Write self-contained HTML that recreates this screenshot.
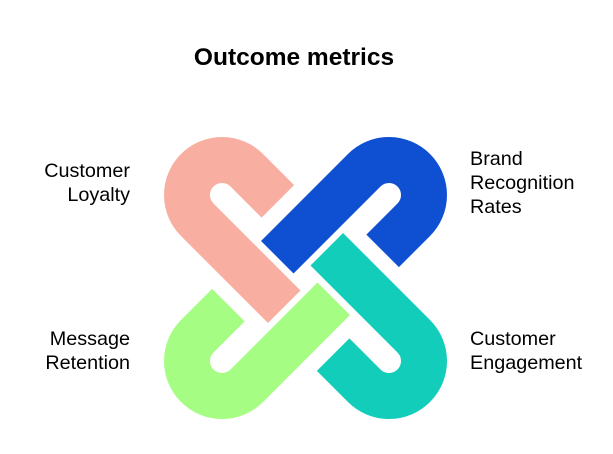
<!DOCTYPE html>
<html><head><style>
body{margin:0;width:613px;height:454px;background:#fff;overflow:hidden}
svg{display:block}
text{font-family:"Liberation Sans",sans-serif;fill:#000}
</style></head><body>
<svg width="613" height="454" viewBox="0 0 613 454">
<text x="294" y="65" font-size="24.5" font-weight="bold" text-anchor="middle">Outcome metrics</text>
<g font-size="19.8">
<text x="130" y="177" text-anchor="end">Customer</text>
<text x="130" y="201" text-anchor="end">Loyalty</text>
<text x="470" y="165">Brand</text>
<text x="470" y="189">Recognition</text>
<text x="470" y="213">Rates</text>
<text x="130" y="345" text-anchor="end">Message</text>
<text x="130" y="369" text-anchor="end">Retention</text>
<text x="470" y="345">Customer</text>
<text x="470" y="369">Engagement</text>
</g>
<g fill="none" stroke-width="46" stroke-linecap="butt">
<path d="M44,-35 H0 A35,35 0 0 0 0,35 H123" stroke="#F8AFA1" transform="translate(222,195) rotate(45)"/>
<path d="M44,-35 H0 A35,35 0 0 0 0,35 H123" stroke="#0F4FD1" transform="translate(389,195) rotate(135)"/>
<path d="M44,-35 H0 A35,35 0 0 0 0,35 H123" stroke="#12CDBA" transform="translate(389,361) rotate(225)"/>
<path d="M44,-35 H0 A35,35 0 0 0 0,35 H123" stroke="#A5FD83" transform="translate(222,361) rotate(315)"/>
</g>
</svg>
</body></html>
